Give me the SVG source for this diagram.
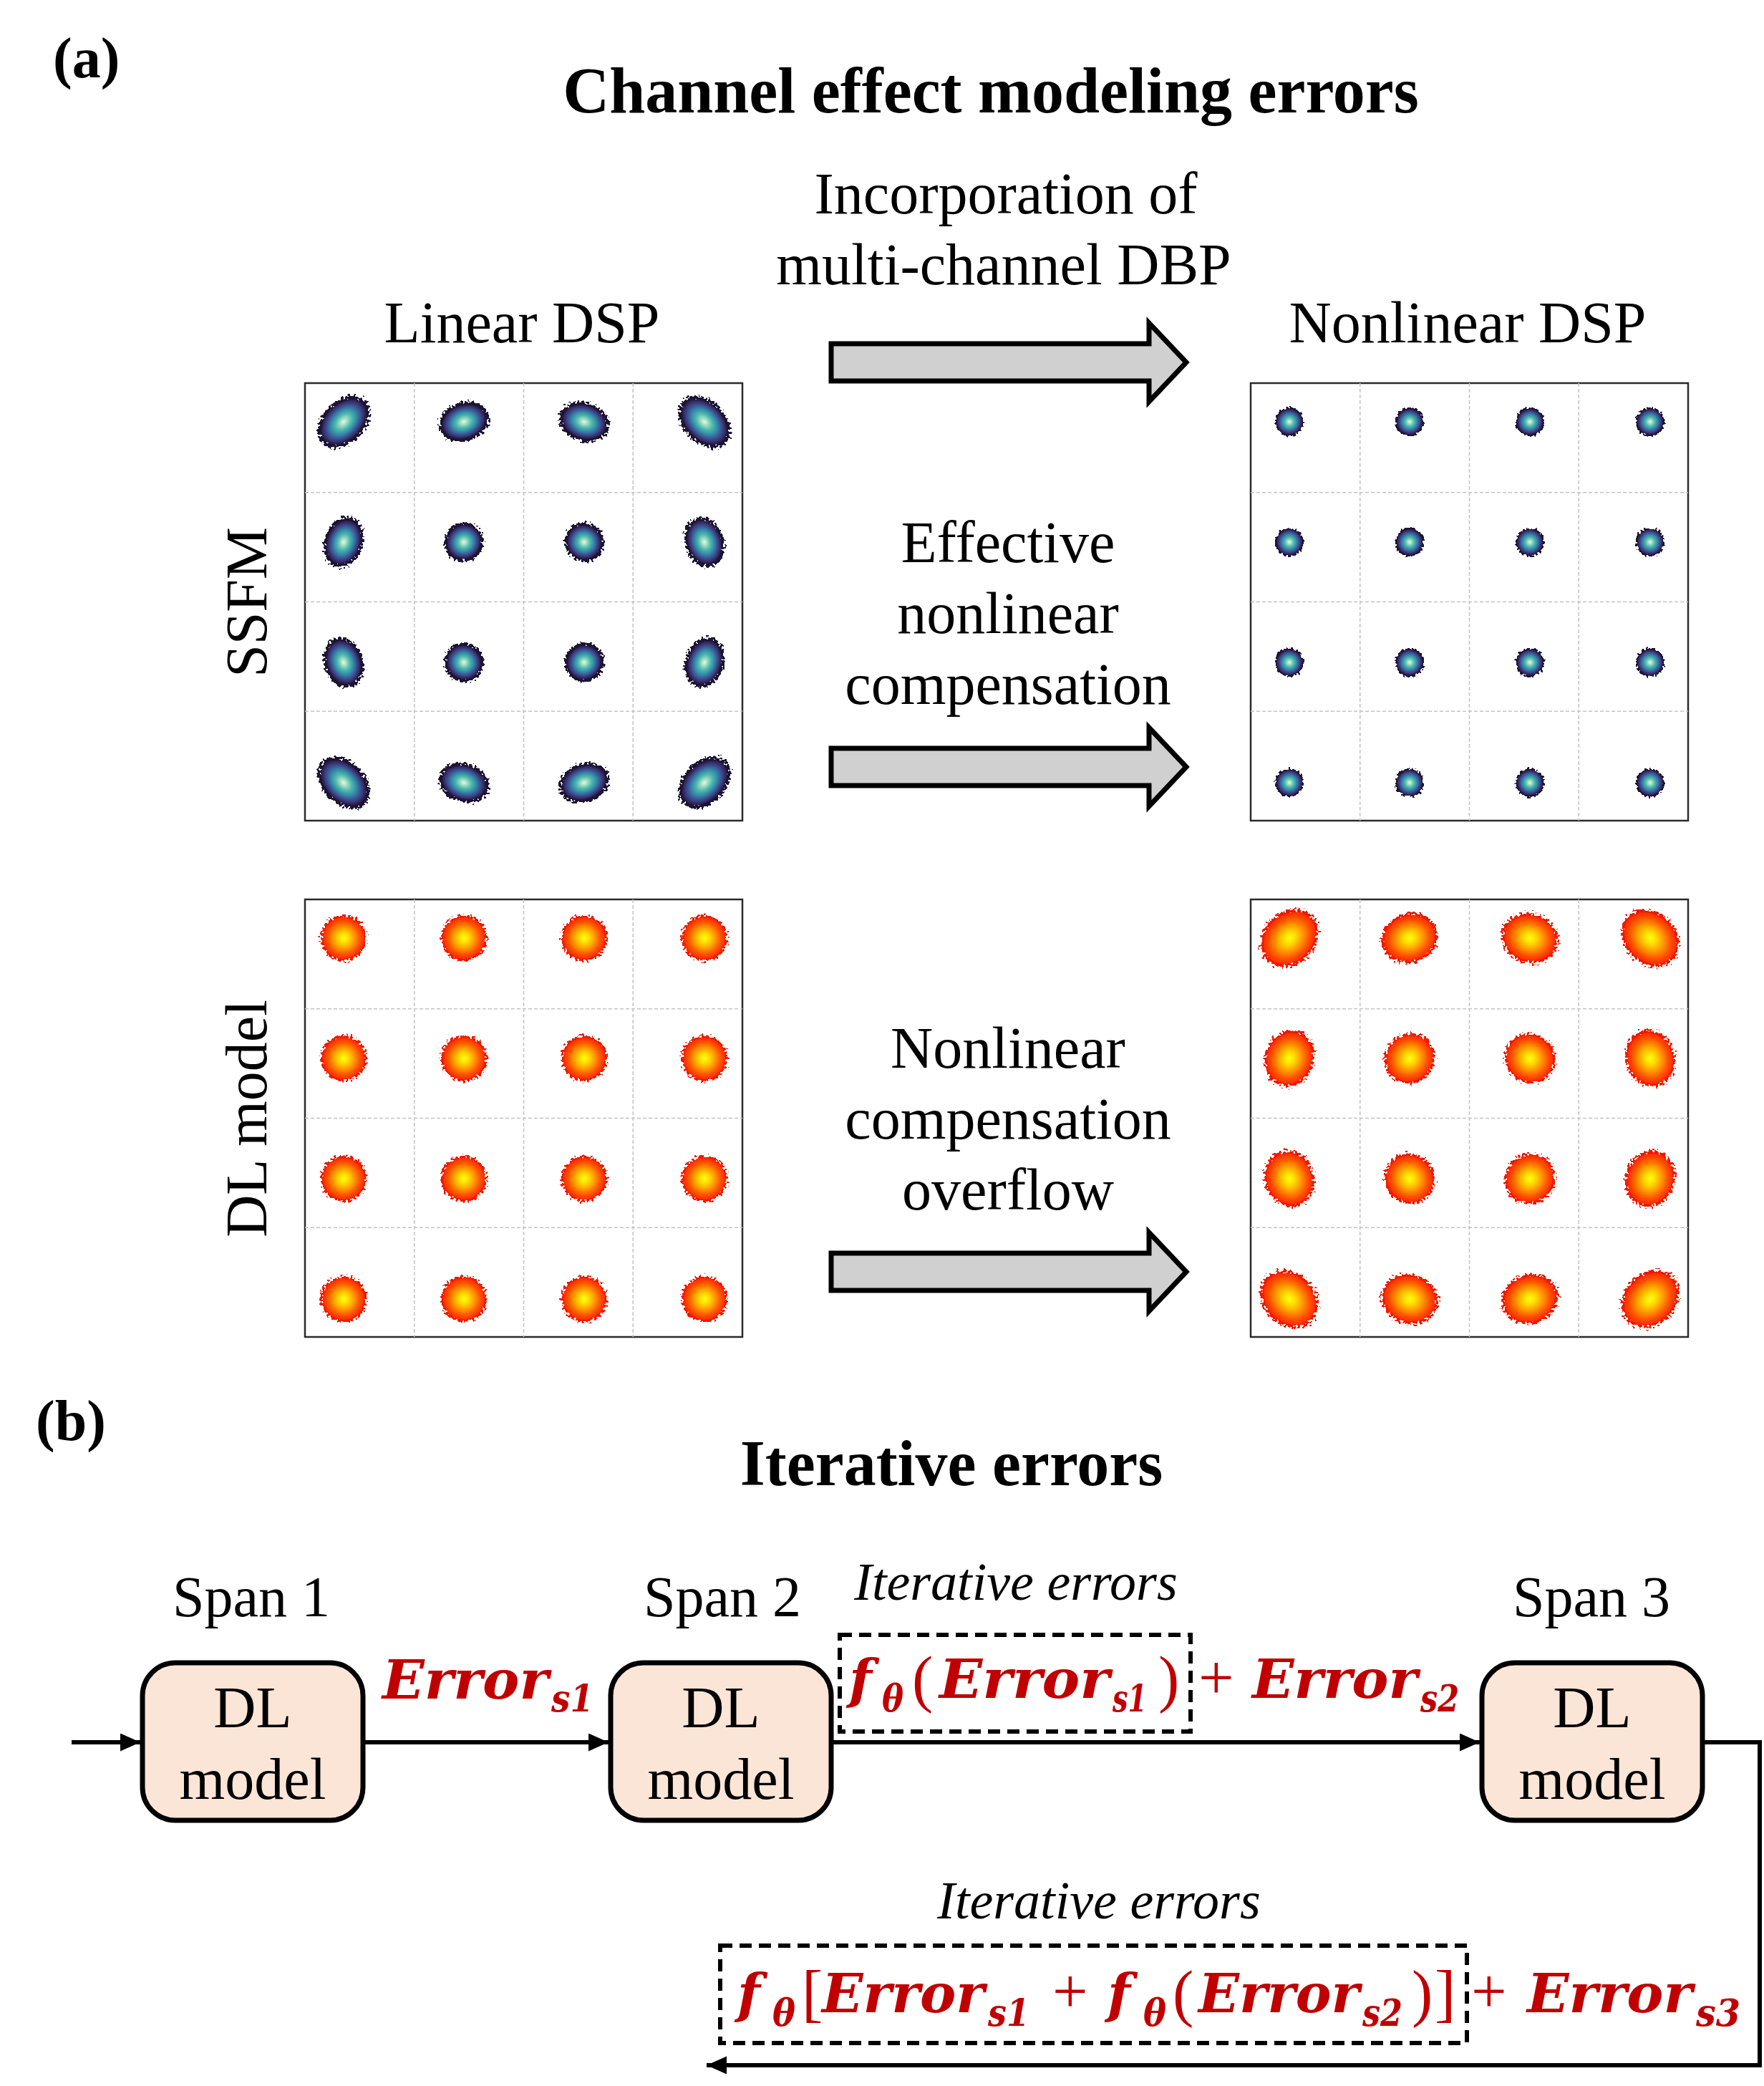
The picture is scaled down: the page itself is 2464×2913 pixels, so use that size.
<svg xmlns="http://www.w3.org/2000/svg" width="2464" height="2913" viewBox="0 0 2464 2913">
<defs>
<style>
.serif{font-family:"Liberation Serif","Times New Roman",serif;fill:#000}
.b{font-weight:bold}
.lbl{font-size:82px}
.span{font-size:80px}
.it{font-style:italic;font-size:74px}
.m{font-family:"DejaVu Serif",serif;font-weight:bold;font-style:italic;fill:#c00000;font-size:74px}
.sub{font-size:52px}
.op{font-family:"Liberation Serif","Times New Roman",serif;fill:#c00000;font-size:88px}
.frame{fill:#fff;stroke:#2b2b2b;stroke-width:2.5}
.grid{fill:none;stroke:#c4c4c4;stroke-width:1.6;stroke-dasharray:5 3}
.blk{fill:#d0d0d0;stroke:#000;stroke-width:7;stroke-linejoin:miter}
.box{fill:#fbe5d6;stroke:#000;stroke-width:7}
.dash{fill:none;stroke:#000;stroke-width:6;stroke-dasharray:17 10}
.wire{fill:none;stroke:#000;stroke-width:6}
.hb{fill:url(#hG)}
.cb{fill:url(#gB)}
.cr{fill:url(#gR)}
</style>
<radialGradient id="gB">
<stop offset="0" stop-color="#e6f8e8"/>
<stop offset="0.15" stop-color="#a6e0c4"/>
<stop offset="0.36" stop-color="#4fb8ae"/>
<stop offset="0.55" stop-color="#3390a8"/>
<stop offset="0.72" stop-color="#3b5a98"/>
<stop offset="0.86" stop-color="#3a3578"/>
<stop offset="1" stop-color="#241a3e"/>
</radialGradient>
<radialGradient id="gR">
<stop offset="0" stop-color="#ffff10"/>
<stop offset="0.25" stop-color="#ffd800"/>
<stop offset="0.55" stop-color="#ff9000"/>
<stop offset="0.8" stop-color="#ff5000"/>
<stop offset="1" stop-color="#ff2a00"/>
</radialGradient>
<radialGradient id="hG">
<stop offset="0" stop-color="#000"/>
<stop offset="0.72" stop-color="#000"/>
<stop offset="0.88" stop-color="#000" stop-opacity="0.6"/>
<stop offset="1" stop-color="#000" stop-opacity="0"/>
</radialGradient>
<filter id="spB" filterUnits="userSpaceOnUse" x="400" y="500" width="2000" height="1400" color-interpolation-filters="sRGB">
<feTurbulence type="fractalNoise" baseFrequency="0.3" numOctaves="1" seed="7" result="n"/>
<feColorMatrix in="n" type="matrix" values="0 0 0 0 0 0 0 0 0 0 0 0 0 0 0 1 0 0 0 0" result="na"/>
<feComposite in="SourceGraphic" in2="na" operator="arithmetic" k1="0" k2="1" k3="1" k4="-0.82" result="m"/>
<feComponentTransfer in="m" result="t"><feFuncA type="discrete" tableValues="0 1"/></feComponentTransfer>
<feFlood flood-color="#1d1433"/>
<feComposite in2="t" operator="in"/>
</filter>
<filter id="spR" filterUnits="userSpaceOnUse" x="400" y="500" width="2000" height="1400" color-interpolation-filters="sRGB">
<feTurbulence type="fractalNoise" baseFrequency="0.3" numOctaves="1" seed="11" result="n"/>
<feColorMatrix in="n" type="matrix" values="0 0 0 0 0 0 0 0 0 0 0 0 0 0 0 1 0 0 0 0" result="na"/>
<feComposite in="SourceGraphic" in2="na" operator="arithmetic" k1="0" k2="1" k3="1" k4="-0.82" result="m"/>
<feComponentTransfer in="m" result="t"><feFuncA type="discrete" tableValues="0 1"/></feComponentTransfer>
<feFlood flood-color="#ee1a00"/>
<feComposite in2="t" operator="in"/>
</filter>
<marker id="ah" markerUnits="userSpaceOnUse" markerWidth="30" markerHeight="26" refX="28" refY="12.5" orient="auto">
<path d="M0,0 L28,12.5 L0,25 z" fill="#000"/>
</marker>
</defs>
<rect width="2464" height="2913" fill="#fff"/>

<!-- Part (a) labels -->
<g id="labels-a">
<text class="serif b" x="74" y="108" font-size="80">(a)</text>
<text class="serif b" x="1384" y="157" font-size="90" text-anchor="middle">Channel effect modeling errors</text>
<text class="serif lbl" x="1405" y="298" text-anchor="middle">Incorporation of</text>
<text class="serif lbl" x="1402" y="397" text-anchor="middle">multi-channel DBP</text>
<text class="serif lbl" x="729" y="478" text-anchor="middle">Linear DSP</text>
<text class="serif lbl" x="2050" y="478" text-anchor="middle">Nonlinear DSP</text>
<text class="serif lbl" transform="translate(372 841) rotate(-90)" text-anchor="middle">SSFM</text>
<text class="serif lbl" transform="translate(372 1562) rotate(-90)" text-anchor="middle">DL model</text>
<text class="serif lbl" x="1408" y="785" text-anchor="middle">Effective</text>
<text class="serif lbl" x="1408" y="884" text-anchor="middle">nonlinear</text>
<text class="serif lbl" x="1408" y="983" text-anchor="middle">compensation</text>
<text class="serif lbl" x="1408" y="1491" text-anchor="middle">Nonlinear</text>
<text class="serif lbl" x="1408" y="1590" text-anchor="middle">compensation</text>
<text class="serif lbl" x="1408" y="1689" text-anchor="middle">overflow</text>
</g>

<g id="block-arrows">
<polygon class="blk" points="1161,480 1605,480 1605,451 1657,506 1605,561 1605,532 1161,532"/>
<polygon class="blk" points="1161,1045 1605,1045 1605,1016 1657,1071 1605,1126 1605,1097 1161,1097"/>
<polygon class="blk" points="1161,1750 1605,1750 1605,1721 1657,1776 1605,1831 1605,1802 1161,1802"/>
</g>

<!-- Panel 1: SSFM linear -->
<g id="panel-ssfm-linear">
<rect class="frame" x="426" y="535" width="611" height="611"/>
<path class="grid" d="M578.75,535V1146M731.5,535V1146M884.25,535V1146M426,687.75H1037M426,840.5H1037M426,993.25H1037"/>
<g filter="url(#spB)">
<ellipse class="hb" transform="translate(480 589) rotate(-45)" rx="53" ry="37"/>
<ellipse class="hb" transform="translate(648 589) rotate(-18.4)" rx="45" ry="34"/>
<ellipse class="hb" transform="translate(816 589) rotate(18.4)" rx="45" ry="34"/>
<ellipse class="hb" transform="translate(984 589) rotate(45)" rx="53" ry="37"/>
<ellipse class="hb" transform="translate(480 757) rotate(-71.6)" rx="45" ry="34"/>
<ellipse class="hb" transform="translate(648 757) rotate(-45)" rx="35" ry="34"/>
<ellipse class="hb" transform="translate(816 757) rotate(45)" rx="35" ry="34"/>
<ellipse class="hb" transform="translate(984 757) rotate(71.6)" rx="45" ry="34"/>
<ellipse class="hb" transform="translate(480 925) rotate(71.6)" rx="45" ry="34"/>
<ellipse class="hb" transform="translate(648 925) rotate(45)" rx="35" ry="34"/>
<ellipse class="hb" transform="translate(816 925) rotate(-45)" rx="35" ry="34"/>
<ellipse class="hb" transform="translate(984 925) rotate(-71.6)" rx="45" ry="34"/>
<ellipse class="hb" transform="translate(480 1093) rotate(45)" rx="53" ry="37"/>
<ellipse class="hb" transform="translate(648 1093) rotate(18.4)" rx="45" ry="34"/>
<ellipse class="hb" transform="translate(816 1093) rotate(-18.4)" rx="45" ry="34"/>
<ellipse class="hb" transform="translate(984 1093) rotate(-45)" rx="53" ry="37"/>
</g>
<g>
<ellipse class="cb" transform="translate(480 589) rotate(-45)" rx="37" ry="25"/>
<ellipse class="cb" transform="translate(648 589) rotate(-18.4)" rx="31" ry="23"/>
<ellipse class="cb" transform="translate(816 589) rotate(18.4)" rx="31" ry="23"/>
<ellipse class="cb" transform="translate(984 589) rotate(45)" rx="37" ry="25"/>
<ellipse class="cb" transform="translate(480 757) rotate(-71.6)" rx="31" ry="23"/>
<ellipse class="cb" transform="translate(648 757) rotate(-45)" rx="24" ry="23"/>
<ellipse class="cb" transform="translate(816 757) rotate(45)" rx="24" ry="23"/>
<ellipse class="cb" transform="translate(984 757) rotate(71.6)" rx="31" ry="23"/>
<ellipse class="cb" transform="translate(480 925) rotate(71.6)" rx="31" ry="23"/>
<ellipse class="cb" transform="translate(648 925) rotate(45)" rx="24" ry="23"/>
<ellipse class="cb" transform="translate(816 925) rotate(-45)" rx="24" ry="23"/>
<ellipse class="cb" transform="translate(984 925) rotate(-71.6)" rx="31" ry="23"/>
<ellipse class="cb" transform="translate(480 1093) rotate(45)" rx="37" ry="25"/>
<ellipse class="cb" transform="translate(648 1093) rotate(18.4)" rx="31" ry="23"/>
<ellipse class="cb" transform="translate(816 1093) rotate(-18.4)" rx="31" ry="23"/>
<ellipse class="cb" transform="translate(984 1093) rotate(-45)" rx="37" ry="25"/>
</g>
</g>

<!-- Panel 3: SSFM nonlinear -->
<g id="panel-ssfm-nonlinear">
<rect class="frame" x="1747" y="535" width="611" height="611"/>
<path class="grid" d="M1899.75,535V1146M2052.5,535V1146M2205.25,535V1146M1747,687.75H2358M1747,840.5H2358M1747,993.25H2358"/>
<g filter="url(#spB)">
<circle class="hb" cx="1801" cy="589" r="25"/><circle class="hb" cx="1969" cy="589" r="25"/><circle class="hb" cx="2137" cy="589" r="25"/><circle class="hb" cx="2305" cy="589" r="25"/>
<circle class="hb" cx="1801" cy="757" r="25"/><circle class="hb" cx="1969" cy="757" r="25"/><circle class="hb" cx="2137" cy="757" r="25"/><circle class="hb" cx="2305" cy="757" r="25"/>
<circle class="hb" cx="1801" cy="925" r="25"/><circle class="hb" cx="1969" cy="925" r="25"/><circle class="hb" cx="2137" cy="925" r="25"/><circle class="hb" cx="2305" cy="925" r="25"/>
<circle class="hb" cx="1801" cy="1093" r="25"/><circle class="hb" cx="1969" cy="1093" r="25"/><circle class="hb" cx="2137" cy="1093" r="25"/><circle class="hb" cx="2305" cy="1093" r="25"/>
</g>
<g>
<circle class="cb" cx="1801" cy="589" r="18"/><circle class="cb" cx="1969" cy="589" r="18"/><circle class="cb" cx="2137" cy="589" r="18"/><circle class="cb" cx="2305" cy="589" r="18"/>
<circle class="cb" cx="1801" cy="757" r="18"/><circle class="cb" cx="1969" cy="757" r="18"/><circle class="cb" cx="2137" cy="757" r="18"/><circle class="cb" cx="2305" cy="757" r="18"/>
<circle class="cb" cx="1801" cy="925" r="18"/><circle class="cb" cx="1969" cy="925" r="18"/><circle class="cb" cx="2137" cy="925" r="18"/><circle class="cb" cx="2305" cy="925" r="18"/>
<circle class="cb" cx="1801" cy="1093" r="18"/><circle class="cb" cx="1969" cy="1093" r="18"/><circle class="cb" cx="2137" cy="1093" r="18"/><circle class="cb" cx="2305" cy="1093" r="18"/>
</g>
</g>

<!-- Panel 2: DL linear -->
<g id="panel-dl-linear">
<rect class="frame" x="426" y="1256" width="611" height="611"/>
<path class="grid" d="M578.75,1256V1867M731.5,1256V1867M884.25,1256V1867M426,1408.75H1037M426,1561.5H1037M426,1714.25H1037"/>
<g filter="url(#spR)">
<circle class="hb" cx="480" cy="1310" r="40"/><circle class="hb" cx="648" cy="1310" r="40"/><circle class="hb" cx="816" cy="1310" r="40"/><circle class="hb" cx="984" cy="1310" r="40"/>
<circle class="hb" cx="480" cy="1478" r="40"/><circle class="hb" cx="648" cy="1478" r="40"/><circle class="hb" cx="816" cy="1478" r="40"/><circle class="hb" cx="984" cy="1478" r="40"/>
<circle class="hb" cx="480" cy="1646" r="40"/><circle class="hb" cx="648" cy="1646" r="40"/><circle class="hb" cx="816" cy="1646" r="40"/><circle class="hb" cx="984" cy="1646" r="40"/>
<circle class="hb" cx="480" cy="1814" r="40"/><circle class="hb" cx="648" cy="1814" r="40"/><circle class="hb" cx="816" cy="1814" r="40"/><circle class="hb" cx="984" cy="1814" r="40"/>
</g>
<g>
<circle class="cr" cx="480" cy="1310" r="29"/><circle class="cr" cx="648" cy="1310" r="29"/><circle class="cr" cx="816" cy="1310" r="29"/><circle class="cr" cx="984" cy="1310" r="29"/>
<circle class="cr" cx="480" cy="1478" r="29"/><circle class="cr" cx="648" cy="1478" r="29"/><circle class="cr" cx="816" cy="1478" r="29"/><circle class="cr" cx="984" cy="1478" r="29"/>
<circle class="cr" cx="480" cy="1646" r="29"/><circle class="cr" cx="648" cy="1646" r="29"/><circle class="cr" cx="816" cy="1646" r="29"/><circle class="cr" cx="984" cy="1646" r="29"/>
<circle class="cr" cx="480" cy="1814" r="29"/><circle class="cr" cx="648" cy="1814" r="29"/><circle class="cr" cx="816" cy="1814" r="29"/><circle class="cr" cx="984" cy="1814" r="29"/>
</g>
</g>

<!-- Panel 4: DL nonlinear -->
<g id="panel-dl-nonlinear">
<rect class="frame" x="1747" y="1256" width="611" height="611"/>
<path class="grid" d="M1899.75,1256V1867M2052.5,1256V1867M2205.25,1256V1867M1747,1408.75H2358M1747,1561.5H2358M1747,1714.25H2358"/>
<g filter="url(#spR)">
<ellipse class="hb" transform="translate(1801 1310) rotate(-45)" rx="55" ry="45"/>
<ellipse class="hb" transform="translate(1969 1310) rotate(-18.4)" rx="50" ry="43"/>
<ellipse class="hb" transform="translate(2137 1310) rotate(18.4)" rx="50" ry="43"/>
<ellipse class="hb" transform="translate(2305 1310) rotate(45)" rx="55" ry="45"/>
<ellipse class="hb" transform="translate(1801 1478) rotate(-71.6)" rx="50" ry="43"/>
<ellipse class="hb" transform="translate(1969 1478) rotate(-45)" rx="45" ry="43"/>
<ellipse class="hb" transform="translate(2137 1478) rotate(45)" rx="45" ry="43"/>
<ellipse class="hb" transform="translate(2305 1478) rotate(71.6)" rx="50" ry="43"/>
<ellipse class="hb" transform="translate(1801 1646) rotate(71.6)" rx="50" ry="43"/>
<ellipse class="hb" transform="translate(1969 1646) rotate(45)" rx="45" ry="43"/>
<ellipse class="hb" transform="translate(2137 1646) rotate(-45)" rx="45" ry="43"/>
<ellipse class="hb" transform="translate(2305 1646) rotate(-71.6)" rx="50" ry="43"/>
<ellipse class="hb" transform="translate(1801 1814) rotate(45)" rx="55" ry="45"/>
<ellipse class="hb" transform="translate(1969 1814) rotate(18.4)" rx="50" ry="43"/>
<ellipse class="hb" transform="translate(2137 1814) rotate(-18.4)" rx="50" ry="43"/>
<ellipse class="hb" transform="translate(2305 1814) rotate(-45)" rx="55" ry="45"/>
</g>
<g>
<ellipse class="cr" transform="translate(1801 1310) rotate(-45)" rx="40" ry="32"/>
<ellipse class="cr" transform="translate(1969 1310) rotate(-18.4)" rx="36" ry="31"/>
<ellipse class="cr" transform="translate(2137 1310) rotate(18.4)" rx="36" ry="31"/>
<ellipse class="cr" transform="translate(2305 1310) rotate(45)" rx="40" ry="32"/>
<ellipse class="cr" transform="translate(1801 1478) rotate(-71.6)" rx="36" ry="31"/>
<ellipse class="cr" transform="translate(1969 1478) rotate(-45)" rx="33" ry="31"/>
<ellipse class="cr" transform="translate(2137 1478) rotate(45)" rx="33" ry="31"/>
<ellipse class="cr" transform="translate(2305 1478) rotate(71.6)" rx="36" ry="31"/>
<ellipse class="cr" transform="translate(1801 1646) rotate(71.6)" rx="36" ry="31"/>
<ellipse class="cr" transform="translate(1969 1646) rotate(45)" rx="33" ry="31"/>
<ellipse class="cr" transform="translate(2137 1646) rotate(-45)" rx="33" ry="31"/>
<ellipse class="cr" transform="translate(2305 1646) rotate(-71.6)" rx="36" ry="31"/>
<ellipse class="cr" transform="translate(1801 1814) rotate(45)" rx="40" ry="32"/>
<ellipse class="cr" transform="translate(1969 1814) rotate(18.4)" rx="36" ry="31"/>
<ellipse class="cr" transform="translate(2137 1814) rotate(-18.4)" rx="36" ry="31"/>
<ellipse class="cr" transform="translate(2305 1814) rotate(-45)" rx="40" ry="32"/>
</g>
</g>

<!-- Part (b) -->
<g id="labels-b">
<text class="serif b" x="50" y="2011" font-size="80">(b)</text>
<text class="serif b" x="1329" y="2074" font-size="90" text-anchor="middle">Iterative errors</text>
<text class="serif span" x="351" y="2257" text-anchor="middle">Span 1</text>
<text class="serif span" x="1009" y="2257" text-anchor="middle">Span 2</text>
<text class="serif span" x="2223" y="2257" text-anchor="middle">Span 3</text>
<text class="serif it" x="1419" y="2234" text-anchor="middle">Iterative errors</text>
<text class="serif it" x="1535" y="2679" text-anchor="middle">Iterative errors</text>
</g>

<g id="connectors">
<path class="wire" d="M100,2433 H196" marker-end="url(#ah)"/>
<path class="wire" d="M507,2433 H850" marker-end="url(#ah)"/>
<path class="wire" d="M1161,2433 H2067" marker-end="url(#ah)"/>
<path class="wire" d="M2378,2433 H2458 V2884 H987" marker-end="url(#ah)"/>
</g>

<g id="node-span1">
<rect class="box" x="199" y="2322" width="308" height="220" rx="46"/>
<text class="serif lbl" x="353" y="2412" text-anchor="middle">DL</text>
<text class="serif lbl" x="353" y="2512" text-anchor="middle">model</text>
</g>
<g id="node-span2">
<rect class="box" x="853" y="2322" width="308" height="220" rx="46"/>
<text class="serif lbl" x="1007" y="2412" text-anchor="middle">DL</text>
<text class="serif lbl" x="1007" y="2512" text-anchor="middle">model</text>
</g>
<g id="node-span3">
<rect class="box" x="2070" y="2322" width="308" height="220" rx="46"/>
<text class="serif lbl" x="2224" y="2412" text-anchor="middle">DL</text>
<text class="serif lbl" x="2224" y="2512" text-anchor="middle">model</text>
</g>

<g id="error-s1">
<text class="m" x="534" y="2372" textLength="232" lengthAdjust="spacingAndGlyphs">Error</text>
<text class="m sub" x="770" y="2390" textLength="59" lengthAdjust="spacingAndGlyphs">s1</text>
</g>

<g id="iter-box-1">
<rect class="dash" x="1173" y="2283" width="490" height="135"/>
<text class="m" x="1186" y="2371" font-size="84">f</text>
<text class="m sub" x="1232" y="2390" textLength="30" lengthAdjust="spacingAndGlyphs">θ</text>
<text class="op" x="1274" y="2374">(</text>
<text class="m" x="1312" y="2371" textLength="238" lengthAdjust="spacingAndGlyphs">Error</text>
<text class="m sub" x="1554" y="2390" textLength="48" lengthAdjust="spacingAndGlyphs">s1</text>
<text class="op" x="1618" y="2374">)</text>
</g>
<g id="error-s2">
<text class="op" x="1674" y="2372">+</text>
<text class="m" x="1749" y="2371" textLength="231" lengthAdjust="spacingAndGlyphs">Error</text>
<text class="m sub" x="1984" y="2390" textLength="54" lengthAdjust="spacingAndGlyphs">s2</text>
</g>

<g id="iter-box-2">
<rect class="dash" x="1006" y="2717" width="1043" height="136"/>
<text class="m" x="1030" y="2810" font-size="84">f</text>
<text class="m sub" x="1079" y="2829" textLength="32" lengthAdjust="spacingAndGlyphs">θ</text>
<text class="op" x="1120" y="2813">[</text>
<text class="m" x="1148" y="2810" textLength="227" lengthAdjust="spacingAndGlyphs">Error</text>
<text class="m sub" x="1380" y="2829" textLength="58" lengthAdjust="spacingAndGlyphs">s1</text>
<text class="op" x="1470" y="2810">+</text>
<text class="m" x="1547" y="2810" font-size="84">f</text>
<text class="m sub" x="1597" y="2829" textLength="32" lengthAdjust="spacingAndGlyphs">θ</text>
<text class="op" x="1638" y="2813">(</text>
<text class="m" x="1674" y="2810" textLength="225" lengthAdjust="spacingAndGlyphs">Error</text>
<text class="m sub" x="1903" y="2829" textLength="56" lengthAdjust="spacingAndGlyphs">s2</text>
<text class="op" x="1972" y="2813">)</text>
<text class="op" x="2004" y="2813">]</text>
</g>
<g id="error-s3">
<text class="op" x="2055" y="2810">+</text>
<text class="m" x="2133" y="2810" textLength="231" lengthAdjust="spacingAndGlyphs">Error</text>
<text class="m sub" x="2369" y="2829" textLength="62" lengthAdjust="spacingAndGlyphs">s3</text>
</g>
</svg>
